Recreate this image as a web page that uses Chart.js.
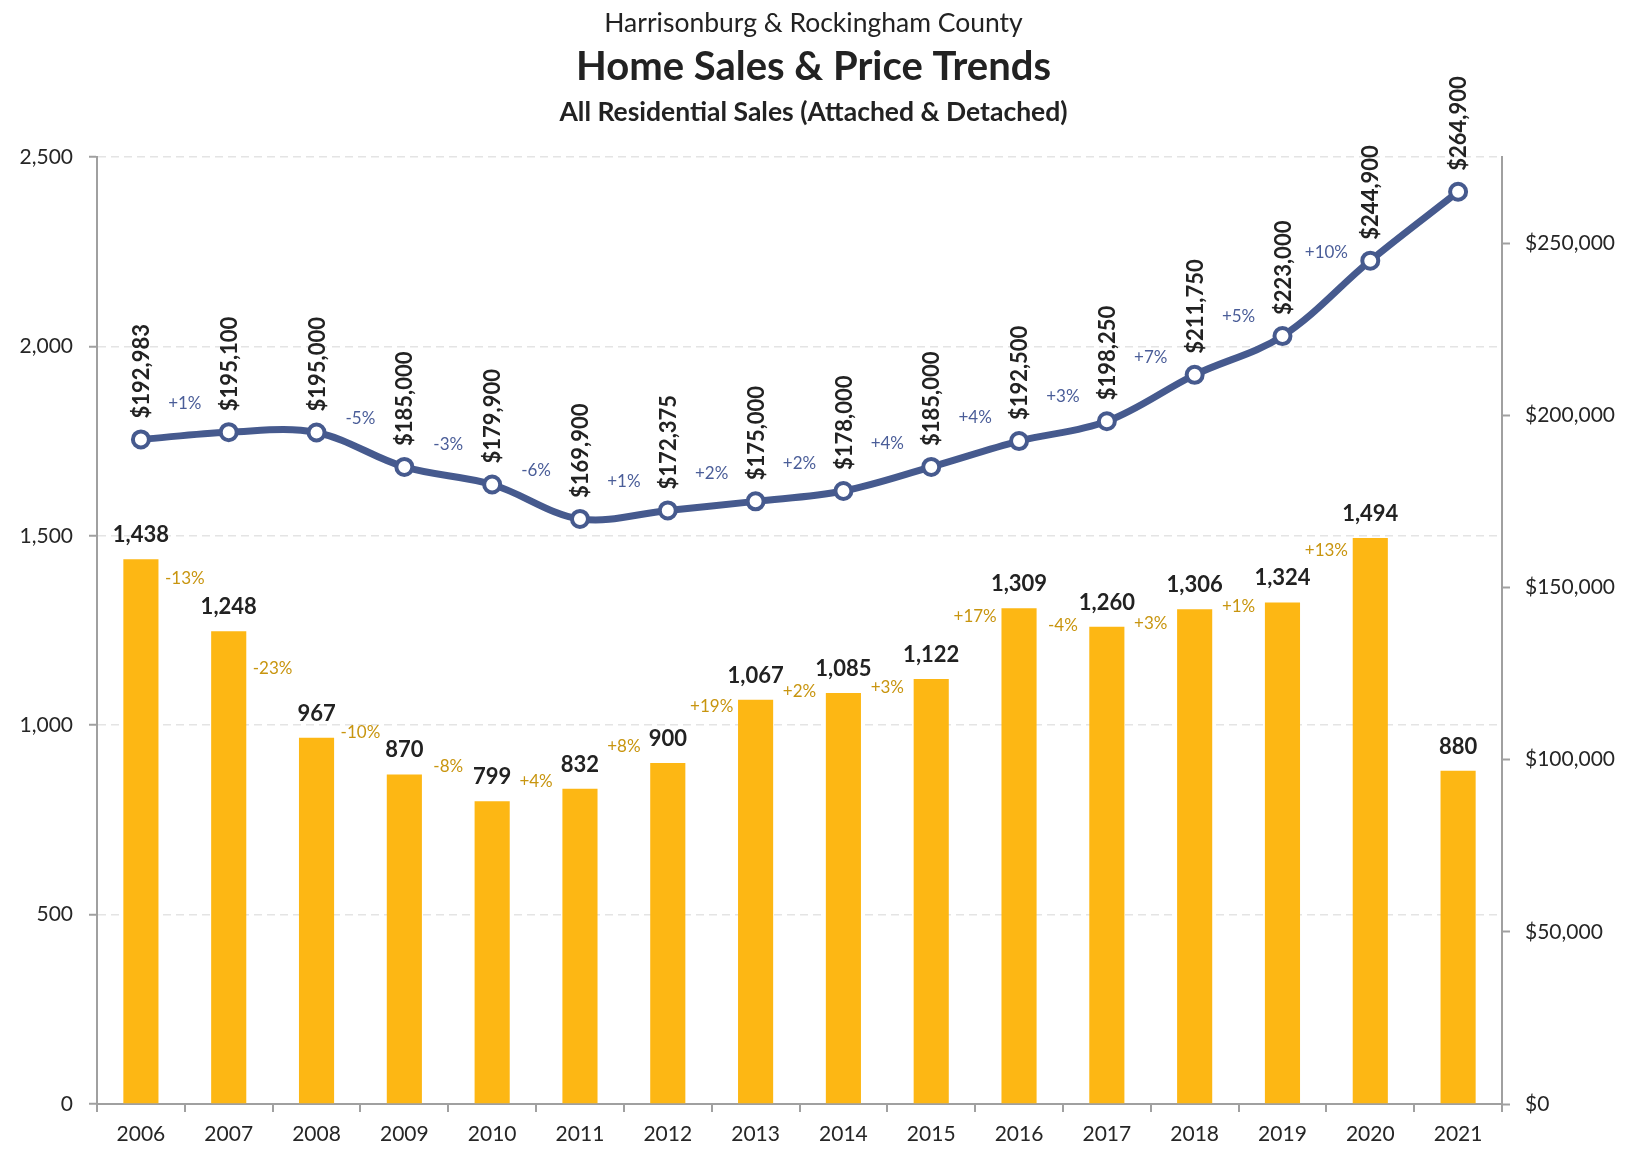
<!DOCTYPE html>
<html><head><meta charset="utf-8">
<script src="https://cdn.jsdelivr.net/npm/chart.js@4.4.1/dist/chart.umd.min.js"></script>
<style>html,body{margin:0;padding:0;background:#fff;}canvas{display:block;}</style>
</head><body>
<canvas id="c" width="1627" height="1152"></canvas>
<script>
// ---- data ----
const years = ['2006','2007','2008','2009','2010','2011','2012','2013','2014','2015','2016','2017','2018','2019','2020','2021'];
const sales = [1438, 1248, 967, 870, 799, 832, 900, 1067, 1085, 1122, 1309, 1260, 1306, 1324, 1494, 880];
const medianPrice = [192983, 195100, 195000, 185000, 179900, 169900, 172375, 175000, 178000, 185000, 192500, 198250, 211750, 223000, 244900, 264900];
// year-over-year change labels (between year i and i+1)
const salesChange = ['-13%','-23%','-10%','-8%','+4%','+8%','+19%','+2%','+3%','+17%','-4%','+3%','+1%','+13%',''];
// anchor height (in sales units) of each sales-change label, as placed in the reference
const salesChangeAt = [1387, 1150, 981, 892, 852, 943, 1049, 1088, 1099, 1288, 1264, 1269, 1312, 1462, 0];
const priceChange = ['+1%','','-5%','-3%','-6%','+1%','+2%','+2%','+4%','+4%','+3%','+7%','+5%','+10%',''];
// axis ticks
const salesTicks = [0, 500, 1000, 1500, 2000, 2500];
const priceTicks = [0, 50000, 100000, 150000, 200000, 250000];
const titleLines = ['Harrisonburg & Rockingham County','Home Sales & Price Trends','All Residential Sales (Attached & Detached)'];

const FONT = 'Lato';
Chart.defaults.font.family = FONT;
Chart.defaults.color = '#262626';

const BAR = '#FDB714';
const LINE = '#465A8E';
const AXIS = '#A0A0A0';
const TXT = '#222222';
const BLUE_TXT = '#4A5D98';
const GOLD_TXT = '#C8950F';

const fmt = v => Number(v).toLocaleString('en-US');

const labelPlugin = {
  id: 'labels',
  afterDatasetsDraw(chart) {
    const ctx = chart.ctx;
    const bars = chart.getDatasetMeta(0).data;
    const pts = chart.getDatasetMeta(1).data;
    const yS = chart.scales.y;
    ctx.save();
    // bar value labels
    ctx.font = 'bold 22px ' + FONT;
    ctx.fillStyle = TXT;
    ctx.textAlign = 'center';
    ctx.textBaseline = 'alphabetic';
    bars.forEach((b, i) => ctx.fillText(fmt(sales[i]), b.x, b.y - 17));
    // sales change labels
    ctx.font = '17px ' + FONT;
    ctx.fillStyle = GOLD_TXT;
    ctx.textBaseline = 'middle';
    salesChange.forEach((t, i) => {
      if (!t) return;
      const x = (bars[i].x + bars[i + 1].x) / 2;
      ctx.fillText(t, x, yS.getPixelForValue(salesChangeAt[i]));
    });
    // price change labels (above the line, between points)
    ctx.fillStyle = BLUE_TXT;
    priceChange.forEach((t, i) => {
      if (!t) return;
      const a = pts[i], b = pts[i + 1];
      const x = (a.x + b.x) / 2;
      const mid = (a.y + b.y) / 2;
      const rise = Math.max(0, a.y - b.y);
      ctx.fillText(t, x, mid - 31 - 0.2 * rise);
    });
    // rotated price labels
    ctx.font = 'bold 22px ' + FONT;
    ctx.fillStyle = TXT;
    ctx.textAlign = 'left';
    ctx.textBaseline = 'middle';
    pts.forEach((p, i) => {
      ctx.save();
      ctx.translate(p.x + 1, p.y - 21);
      ctx.rotate(-Math.PI / 2);
      ctx.fillText('$' + fmt(medianPrice[i]), 0, 0);
      ctx.restore();
    });
    ctx.restore();
  },
  afterDraw(chart) {
    const ctx = chart.ctx;
    const cx = chart.width / 2;
    ctx.save();
    ctx.fillStyle = TXT;
    ctx.textAlign = 'center';
    ctx.textBaseline = 'alphabetic';
    ctx.font = '26.5px ' + FONT;
    ctx.fillText(titleLines[0], cx, 32);
    ctx.font = 'bold 40px ' + FONT;
    ctx.fillText(titleLines[1], cx, 80);
    ctx.font = 'bold 26.5px ' + FONT;
    ctx.fillText(titleLines[2], cx, 121);
    ctx.restore();
  }
};

const setTicks = list => scale => { scale.ticks = list.map(v => ({ value: v })); };

new Chart(document.getElementById('c'), {
  type: 'bar',
  data: {
    labels: years,
    datasets: [
      {
        type: 'bar', label: 'Home Sales', data: sales, yAxisID: 'y',
        backgroundColor: BAR, barPercentage: 0.4, categoryPercentage: 1.0, order: 2
      },
      {
        type: 'line', label: 'Median Price', data: medianPrice, yAxisID: 'y1',
        borderColor: LINE, borderWidth: 7, tension: 0.35,
        pointRadius: 8, pointBorderWidth: 4, pointBackgroundColor: '#ffffff',
        pointBorderColor: LINE, order: 1
      }
    ]
  },
  options: {
    responsive: false,
    animation: false,
    devicePixelRatio: 1,
    layout: { padding: { top: 157, left: 0, right: 0, bottom: 0 } },
    plugins: { legend: { display: false }, tooltip: { enabled: false }, title: { display: false } },
    scales: {
      x: {
        offset: true,
        grid: { display: true, offset: true, drawOnChartArea: false, drawTicks: true, tickLength: 8, color: AXIS, tickColor: AXIS, lineWidth: 2, tickWidth: 2 },
        border: { display: true, color: AXIS, width: 2 },
        ticks: { font: { size: 21 }, padding: 10, color: '#262626', maxRotation: 0, autoSkip: false },
        afterFit(s) { s.height = 48; }
      },
      y: {
        position: 'left', min: 0, max: 2500,
        afterBuildTicks: setTicks(salesTicks),
        ticks: { autoSkip: false, font: { size: 21 }, padding: 16, color: '#262626', callback: v => fmt(v) },
        grid: { color: '#E4E4E4', lineWidth: 1.5, tickColor: AXIS, tickLength: 8, tickWidth: 2 },
        border: { display: true, color: AXIS, width: 2, dash: [8, 5] },
        afterFit(s) { s.width = 97; }
      },
      y1: {
        position: 'right', min: 0, max: 275000,
        afterBuildTicks: setTicks(priceTicks),
        ticks: { autoSkip: false, font: { size: 21 }, padding: 15, color: '#262626', callback: v => '$' + fmt(v) },
        grid: { drawOnChartArea: false, color: AXIS, tickColor: AXIS, tickLength: 8, tickWidth: 2 },
        border: { display: true, color: AXIS, width: 2 },
        afterFit(s) { s.width = 125; }
      }
    }
  },
  plugins: [labelPlugin]
});
</script>
</body></html>
